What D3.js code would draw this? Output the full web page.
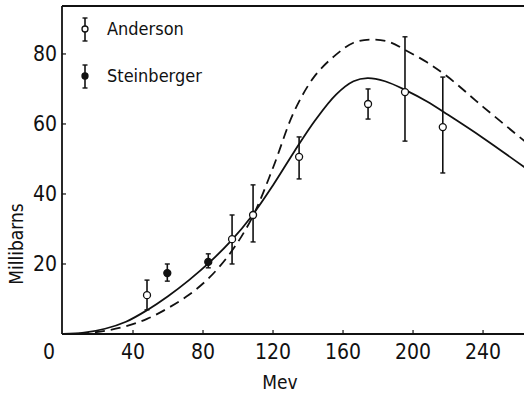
<!DOCTYPE html>
<html>
<head>
<meta charset="utf-8">
<script src="https://d3js.org/d3.v7.min.js"></script>
<style>
  body { margin: 0; background: #fff; }
  text { font-family: "DejaVu Sans Condensed", "DejaVu Sans", sans-serif; fill: #111; }
</style>
</head>
<body>
<div id="chart"></div>
<script>
// Anderson (open circles): energy, cross section, error low, error high
var anderson = [
  [48, 11.1, 6.9, 15.4],
  [96.6, 27.1, 20, 34],
  [108.6, 34, 26.3, 42.6],
  [134.9, 50.6, 44.3, 56.3],
  [174.3, 65.7, 61.4, 70],
  [195.4, 69.1, 55.1, 84.9],
  [217, 59.1, 46, 73.4]
];
// Steinberger (filled circles)
var steinberger = [
  [59.6, 17.4, 15.1, 20],
  [83, 20.6, 18.9, 22.9]
];
// solid theory curve
var solidCurve = [
  [0, 0], [12, 0.4], [24, 1.5], [36, 3.5], [48, 6.8], [60, 10.8], [72, 15.4], [84, 20.6],
  [96, 26.6], [108, 33.8], [120, 42.5], [132, 52], [144, 61], [156, 68.4], [166, 72.2],
  [174, 73.1], [184, 72.2], [196, 69.6], [208, 66.4], [220, 62.6], [240, 56], [264, 47.5]
];
// dashed theory curve
var dashedCurve = [
  [0, 0], [12, 0.2], [24, 0.9], [36, 2.2], [48, 4.3], [60, 7.4], [72, 11.2], [84, 16.3],
  [96, 23.4], [108, 33.2], [120, 47.5], [132, 63.5], [144, 73.8], [156, 79.8], [166, 83.2],
  [176, 84.1], [186, 83.5], [196, 81], [208, 77.6], [220, 73.4], [240, 64.9], [264, 55]
];
var xTicks = [40, 80, 120, 160, 200, 240];
var yTicks = [20, 40, 60, 80];

var W = 524, H = 394;
var svg = d3.select("#chart").append("svg").attr("width", W).attr("height", H);

var x = d3.scaleLinear().domain([0, 263.4]).range([63, 524]);
var y = d3.scaleLinear().domain([0, 93.7]).range([334, 6]);

// frame: left axis, bottom axis, top border
var frame = svg.append("g").attr("stroke", "#111").attr("stroke-width", 1.8).attr("fill", "none");
frame.append("line").attr("x1", 62).attr("x2", 62).attr("y1", 6).attr("y2", 334);
frame.append("line").attr("x1", 62).attr("x2", W).attr("y1", 334).attr("y2", 334);
frame.append("line").attr("x1", 62).attr("x2", W).attr("y1", 6).attr("y2", 6);

// ticks
svg.append("g").selectAll("line").data(xTicks).enter().append("line")
  .attr("x1", function (d) { return x(d); }).attr("x2", function (d) { return x(d); })
  .attr("y1", 334).attr("y2", 330).attr("stroke", "#111").attr("stroke-width", 1.2);
svg.append("g").selectAll("line").data(yTicks).enter().append("line")
  .attr("x1", 62).attr("x2", 66)
  .attr("y1", function (d) { return y(d); }).attr("y2", function (d) { return y(d); })
  .attr("stroke", "#111").attr("stroke-width", 1.2);

// tick labels
svg.append("g").selectAll("text").data(xTicks).enter().append("text")
  .attr("x", function (d) { return x(d); }).attr("y", 359)
  .attr("text-anchor", "middle").style("font-size", "21px")
  .text(function (d) { return d; });
svg.append("text").attr("x", 49).attr("y", 359).attr("text-anchor", "middle")
  .style("font-size", "21px").text("0");
svg.append("g").selectAll("text").data(yTicks).enter().append("text")
  .attr("x", 57).attr("y", function (d) { return y(d) + 7; })
  .attr("text-anchor", "end").style("font-size", "21px")
  .text(function (d) { return d; });

// axis titles
svg.append("text").attr("x", 280).attr("y", 389).attr("text-anchor", "middle")
  .style("font-size", "19px").text("Mev");
svg.append("text").attr("transform", "translate(23,244) rotate(-90)")
  .attr("text-anchor", "middle").style("font-size", "19px").text("Millibarns");

// curves
var line = d3.line().x(function (d) { return x(d[0]); }).y(function (d) { return y(d[1]); })
  .curve(d3.curveCatmullRom.alpha(0.5));
svg.append("path").datum(solidCurve).attr("d", line)
  .attr("fill", "none").attr("stroke", "#111").attr("stroke-width", 1.8);
svg.append("path").datum(dashedCurve).attr("d", line)
  .attr("fill", "none").attr("stroke", "#111").attr("stroke-width", 1.8)
  .attr("stroke-dasharray", "10,6");

// error bars + points
function drawPoints(data, filled) {
  var g = svg.append("g");
  data.forEach(function (d) {
    var cx = x(d[0]);
    g.append("line").attr("x1", cx).attr("x2", cx).attr("y1", y(d[2])).attr("y2", y(d[3]))
      .attr("stroke", "#111").attr("stroke-width", 1.6);
    [d[2], d[3]].forEach(function (v) {
      g.append("line").attr("x1", cx - 2.5).attr("x2", cx + 2.5).attr("y1", y(v)).attr("y2", y(v))
        .attr("stroke", "#111").attr("stroke-width", 1.4);
    });
    g.append("circle").attr("cx", cx).attr("cy", y(d[1])).attr("r", 3.5)
      .attr("fill", filled ? "#111" : "#fff").attr("stroke", "#111").attr("stroke-width", 1.3);
  });
}
drawPoints(anderson, false);
drawPoints(steinberger, true);

// legend
var legend = [["Anderson", false, 29], ["Steinberger", true, 76]];
legend.forEach(function (l) {
  var g = svg.append("g");
  g.append("line").attr("x1", 85).attr("x2", 85).attr("y1", l[2] - 11).attr("y2", l[2] + 12)
    .attr("stroke", "#111").attr("stroke-width", 1.6);
  [l[2] - 11, l[2] + 12].forEach(function (v) {
    g.append("line").attr("x1", 82.5).attr("x2", 87.5).attr("y1", v).attr("y2", v)
      .attr("stroke", "#111").attr("stroke-width", 1.4);
  });
  g.append("circle").attr("cx", 85).attr("cy", l[2]).attr("r", 3)
    .attr("fill", l[1] ? "#111" : "#fff").attr("stroke", "#111").attr("stroke-width", 1.3);
  g.append("text").attr("x", 107).attr("y", l[2] + 6).style("font-size", "18px").text(l[0]);
});
</script>
</body>
</html>
